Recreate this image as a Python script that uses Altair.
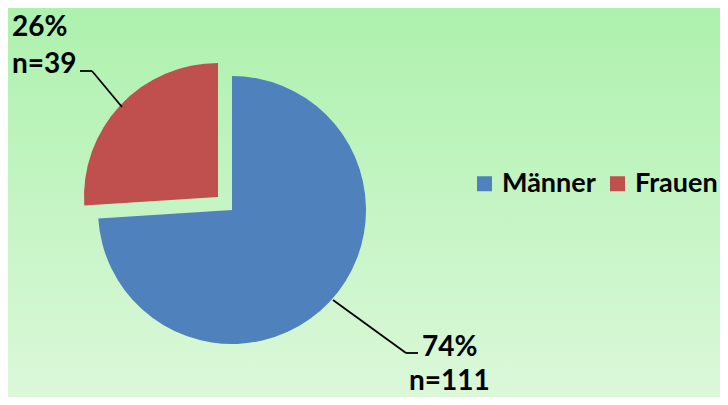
import altair as alt
import pandas as pd

categories = ["Männer", "Frauen"]
counts = [111, 39]
colors = ["#4F81BD", "#C0504D"]

total = sum(counts)
df = pd.DataFrame({
    "Geschlecht": categories,
    "n": counts,
    "idx": list(range(len(categories))),
})
pct_labels = [f"{round(c / total * 100)}%" for c in counts]
n_labels = [f"n={c}" for c in counts]

W, H = 712, 389
CX, CY, R = 224, 202, 134
EXPLODE = {"Frauen": (-14, -13), "Männer": (0, 0)}
FONT = "Lato"

one = pd.DataFrame({"a": [0]})

bg = alt.Chart(one).mark_rect(
    fill=alt.Gradient(
        gradient="linear",
        stops=[alt.GradientStop(color="#adf1ad", offset=0),
               alt.GradientStop(color="#dbf8d9", offset=1)],
        x1=0, x2=0, y1=0, y2=1,
    )
).encode(x=alt.value(0), x2=alt.value(W), y=alt.value(0), y2=alt.value(H))

color = alt.Color(
    "Geschlecht:N",
    scale=alt.Scale(domain=categories, range=colors),
    legend=alt.Legend(
        orient="none", legendX=463, legendY=162, direction="horizontal",
        title=None, symbolType="square", symbolSize=225, symbolStrokeWidth=0,
        symbolOpacity=1, labelFont=FONT, labelFontSize=27, labelFontWeight="bold",
        labelColor="black", labelOffset=4, columnPadding=8, labelLimit=300,
    ),
)

def slice_layer(cat):
    dx, dy = EXPLODE[cat]
    return alt.Chart(df).transform_window(
        cum="sum(n)", sort=[alt.SortField("idx")], frame=[None, 0]
    ).transform_calculate(
        start="datum.cum - datum.n"
    ).transform_filter(
        alt.datum.Geschlecht == cat
    ).mark_arc(outerRadius=R, strokeWidth=0).encode(
        theta=alt.Theta("start:Q", scale=alt.Scale(domain=[0, total])),
        theta2="cum:Q",
        color=color,
        x=alt.value(CX + dx),
        y=alt.value(CY + dy),
    )

def rule(x1, y1, x2, y2):
    return alt.Chart(one).mark_rule(color="black", strokeWidth=1.8).encode(
        x=alt.value(x1), y=alt.value(y1), x2=alt.value(x2), y2=alt.value(y2)
    )

def text(t, x, y):
    return alt.Chart(one).mark_text(
        font=FONT, fontSize=28, fontWeight="bold", color="black",
        align="left", baseline="alphabetic",
    ).encode(x=alt.value(x), y=alt.value(y), text=alt.value(t))

layers = [
    bg,
    slice_layer("Männer"),
    slice_layer("Frauen"),
    rule(72, 63, 84, 63), rule(84, 63, 114, 99),
    rule(325, 292, 398, 345), rule(398, 345, 410, 345),
    text(pct_labels[1], 4, 28), text(n_labels[1], 4, 65),
    text(pct_labels[0], 414, 348), text(n_labels[0], 401, 382),
]

chart = alt.layer(*layers).properties(
    width=W, height=H, padding=0, autosize="none"
).configure_view(stroke=None)

chart.save("out.html", embed_options={"renderer": "svg", "actions": False})
